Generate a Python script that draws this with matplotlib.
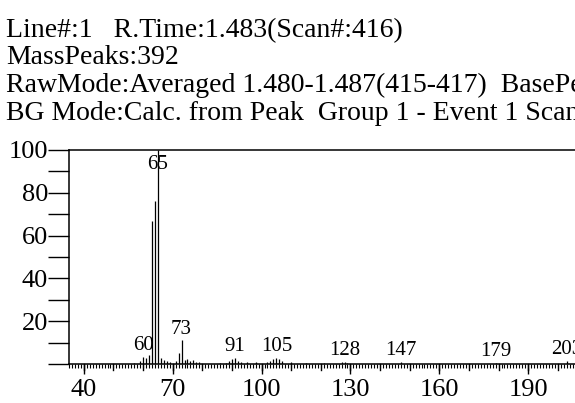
import matplotlib
matplotlib.use("Agg")
import matplotlib.pyplot as plt
from matplotlib.ticker import FixedLocator, MultipleLocator

plt.rcParams['font.family'] = ['Liberation Serif', 'DejaVu Serif']

# header lines of the spectrum report
header = [
    "Line#:1   R.Time:1.483(Scan#:416)",
    "MassPeaks:392",
    "RawMode:Averaged 1.480-1.487(415-417)  BasePeak",
    "BG Mode:Calc. from Peak  Group 1 - Event 1 Scan",
]

# m/z and relative intensity (%)
masses = [57, 59, 60, 61, 62, 63, 64, 65, 66, 67, 68, 69, 71, 72, 73, 74, 75,
          76, 77, 78, 79, 86, 88, 89, 90, 91, 92, 93, 95, 98, 102, 103, 104,
          105, 106, 107, 110, 115, 121, 127, 128, 129, 147, 179, 203]
intens = [0.5, 1.5, 3.5, 3.0, 4.0, 67, 76, 100, 3.0, 2.0, 1.5, 1.0, 1.5, 5.0,
          11, 2.0, 2.5, 1.5, 2.0, 1.0, 1.0, 0.5, 0.5, 1.5, 2.5, 3.0, 1.5, 1.0,
          1.0, 0.8, 1.0, 1.5, 2.5, 3.0, 2.5, 1.5, 1.0, 0.5, 0.5, 1.0, 1.0, 0.5,
          1.0, 0.5, 1.5]
labeled = [60, 65, 73, 91, 105, 128, 147, 179, 203]
xticks = [40, 70, 100, 130, 160, 190]

W, H = 575, 403
fig = plt.figure(figsize=(W / 100, H / 100), dpi=100)

# axes run past the right edge, like the cropped original
ax = fig.add_axes([69 / W, 39 / H, 551 / W, 214 / H])
ax.vlines(masses, 0, intens, color='black', lw=0.9)

for m in labeled:
    y = intens[masses.index(m)]
    if m == 65:
        ax.text(m, 93, str(m), ha='center', va='center', fontsize=15)
    else:
        ax.text(m, y + 0.8, str(m), ha='center', va='bottom', fontsize=15)

ax.set_xlim(35, 221)
ax.set_ylim(0, 100)
for s in ['left', 'bottom', 'top']:
    ax.spines[s].set_linewidth(1.1)
ax.spines['right'].set_visible(False)

ax.xaxis.set_major_locator(FixedLocator(xticks))
ax.xaxis.set_minor_locator(MultipleLocator(1))
ax.yaxis.set_major_locator(MultipleLocator(20))
ax.yaxis.set_minor_locator(MultipleLocator(10))
ax.tick_params(axis='x', which='major', direction='out', length=7, width=1,
               labelsize=19, pad=4)
ax.tick_params(axis='x', which='minor', direction='out', length=3, width=0.8)
ax.tick_params(axis='y', which='both', direction='out', length=15, width=1,
               labelsize=19, pad=0)
# longer ticks every 10 on x
for x in range(40, 221, 10):
    ax.plot([x, x], [0, -2.8], color='black', lw=1, clip_on=False)
ax.set_yticks([20, 40, 60, 80, 100])

for i, line in enumerate(header):
    fig.text(6 / W, 1 - (37 + 27.5 * i) / H, line, fontsize=20, ha='left',
             va='baseline')

fig.savefig("out.png", dpi=100)
